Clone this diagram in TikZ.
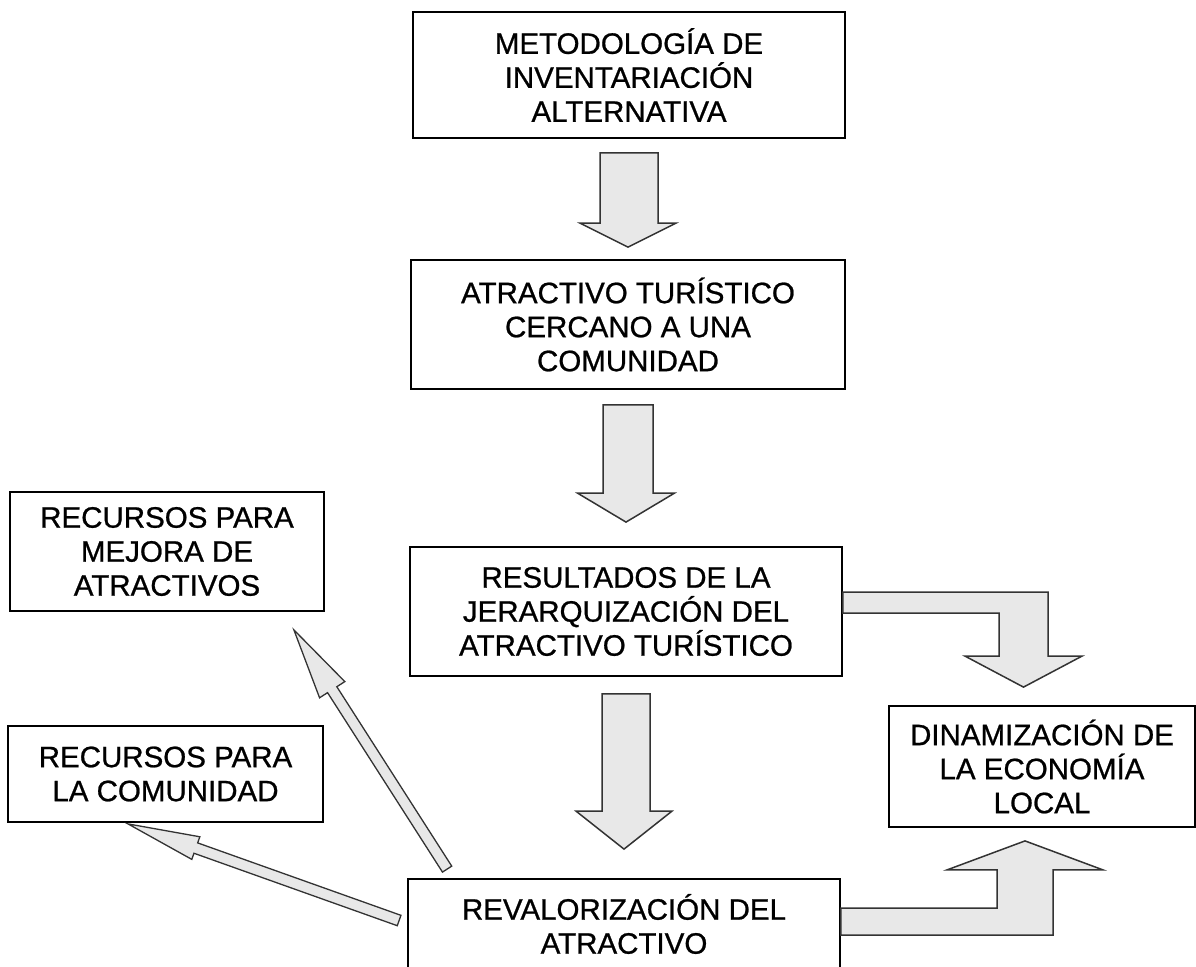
\documentclass[tikz,border=0pt]{standalone}
\usepackage{fontspec}
\setmainfont{Liberation Sans}[FakeBold=0.8]
\usetikzlibrary{calc}
\tikzset{
  box/.style={draw=black, line width=1.8pt, inner sep=0pt, align=center,
    font=\fontsize{29.5}{34}\selectfont},
  blockarrow/.style={draw=black!80, line width=1.5pt, fill=black!9, line join=miter},
  slimarrow/.style={draw=black!80, line width=1.3pt, fill=black!9, line join=miter},
}
% #1 start (top centre), #2 tip, #3 shaft half width, #4 head half width, #5 head length
\newcommand{\downblock}[5]{%
  \draw[blockarrow] let \p1=#1, \p2=#2 in
    (\x1-#3,\y1) -- (\x1+#3,\y1) -- (\x1+#3,\y2+#5) -- (\x2+#4,\y2+#5) -- (\x2,\y2)
    -- (\x2-#4,\y2+#5) -- (\x1-#3,\y2+#5) -- cycle;}
% #1 tail, #2 tip, #3 head length, #4 head half width, #5 shaft half width
\newcommand{\slimarrowdraw}[5]{%
  \draw[slimarrow] (#2)
    -- ($(#2)!#3!(#1)!#4!90:(#1)$)
    -- ($(#2)!#3!(#1)!#5!90:(#1)$)
    -- ($(#1)!#5!-90:(#2)$)
    -- ($(#1)!#5!90:(#2)$)
    -- ($(#2)!#3!(#1)!#5!-90:(#1)$)
    -- ($(#2)!#3!(#1)!#4!-90:(#1)$)
    -- cycle;}
\begin{document}
\begin{tikzpicture}[x=1pt,y=-1pt]
\useasboundingbox (0,0) rectangle (1196,966);

\node[box, minimum width=432pt, minimum height=126pt] (top) at (629,75)
  {METODOLOGÍA DE\\INVENTARIACIÓN\\ALTERNATIVA};
\node[box, minimum width=434pt, minimum height=129pt] (cerca) at (628,324.5)
  {ATRACTIVO TURÍSTICO\\CERCANO A UNA\\COMUNIDAD};
\node[box, minimum width=432pt, minimum height=129pt] (jer) at (626,611.5)
  {RESULTADOS DE LA\\JERARQUIZACIÓN DEL\\ATRACTIVO TURÍSTICO};
\node[box, minimum width=432pt, minimum height=90pt] (rev) at (624,924)
  {REVALORIZACIÓN DEL\\ATRACTIVO};
\node[box, minimum width=314pt, minimum height=119pt] (mej) at (167,551.5)
  {RECURSOS PARA\\MEJORA DE\\ATRACTIVOS};
\node[box, minimum width=315pt, minimum height=96pt] (com) at (165.5,774)
  {RECURSOS PARA\\LA COMUNIDAD};
\node[box, minimum width=306pt, minimum height=121pt] (dyn) at (1042,766.5)
  {DINAMIZACIÓN DE\\LA ECONOMÍA\\LOCAL};

% vertical block arrows
\downblock{($(top.south)+(0,14)$)}{($(cerca.north)+(0,-12)$)}{29pt}{48pt}{24pt}
\downblock{($(cerca.south)+(0,15)$)}{($(jer.north)+(0,-24)$)}{25pt}{48.5pt}{29pt}
\downblock{($(jer.south)+(0,17)$)}{($(rev.north)+(0,-29)$)}{24pt}{48pt}{38pt}

% bent arrow: results -> economy (down)
\draw[blockarrow] let \p1=(jer.east), \p2=(dyn.north) in
  (\x1,\y1+19.5pt) -- (\x2+6pt,\y1+19.5pt) -- (\x2+6pt,\y2+49pt) -- (\x2+40pt,\y2+49pt)
  -- (\x2-18.5pt,\y2+18pt) -- (\x2-77pt,\y2+49pt) -- (\x2-43pt,\y2+49pt)
  -- (\x2-43pt,\y1-1.5pt) -- (\x1,\y1-1.5pt) -- cycle;

% bent arrow: revalorization -> economy (up)
\draw[blockarrow] let \p1=(rev.east), \p2=(dyn.south) in
  (\x1,\y1+16pt) -- (\x2-45pt,\y1+16pt) -- (\x2-45pt,\y2-42pt) -- (\x2-95pt,\y2-42pt)
  -- (\x2-17pt,\y2-13pt) -- (\x2+61pt,\y2-42pt) -- (\x2+11pt,\y2-42pt)
  -- (\x2+11pt,\y1-11pt) -- (\x1,\y1-11pt) -- cycle;

% slim arrows to the resource boxes
\coordinate (c1tail) at ($(rev.north west)+(40,-9)$);
\coordinate (c1tip) at ($(mej.south east)+(-31,18)$);
\coordinate (c2tail) at ($(rev.west)+(-8,-3.5)$);
\coordinate (c2tip) at ($(com.south)+(-37.5,1)$);
\slimarrowdraw{c1tail}{c1tip}{71pt}{15pt}{5.5pt}
\slimarrowdraw{c2tail}{c2tip}{72pt}{12pt}{5.5pt}
\end{tikzpicture}
\end{document}
